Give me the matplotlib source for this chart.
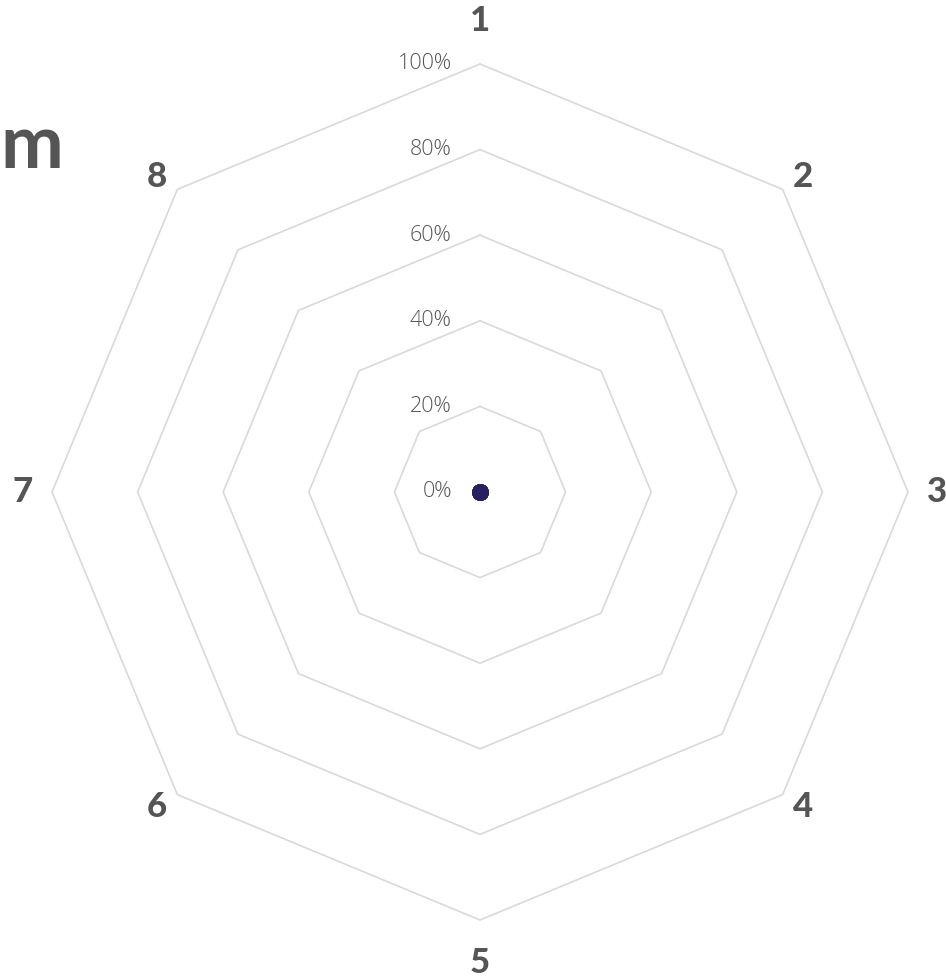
import numpy as np
import matplotlib
matplotlib.use("Agg")
import matplotlib.pyplot as plt

categories = ["1", "2", "3", "4", "5", "6", "7", "8"]
values = [0, 0, 0, 0, 0, 0, 0, 0]
ring_levels = [0.2, 0.4, 0.6, 0.8, 1.0]
tick_labels = ["0%", "20%", "40%", "60%", "80%", "100%"]
title_text = "m"

W, H = 946, 977
fig = plt.figure(figsize=(W / 100, H / 100), dpi=100)
ax = fig.add_axes([0, 0, 1, 1])
cx, cy, R = 480, 492, 428
ax.set_xlim(-cx / R, (W - cx) / R)
ax.set_ylim((cy - H) / R, cy / R)
ax.axis("off")

n = len(categories)
angles = np.arange(n) * 2 * np.pi / n

# rings
for lv in ring_levels:
    a = np.append(angles, angles[0])
    ax.plot(lv * np.sin(a), lv * np.cos(a), color="#d9d9d9", lw=1.2, zorder=1)

# tick labels
for i, t in enumerate(tick_labels):
    r = i * 0.2
    ax.text(-0.066, r, t, ha="right", va="center", fontsize=15.5,
            family="Open Sans", fontweight="light", color="#555555")

# category labels
for ang, c in zip(angles, categories):
    s, co = np.sin(ang), np.cos(ang)
    x = 1.068 * s
    y = 1.04 * co
    if abs(s) < 1e-6:
        y = 1.10 * np.sign(co)
    ax.text(x, y, c, ha="center", va="center", fontsize=25,
            family="Lato", fontweight=900, color="#555555")

# data
v = np.array(values, dtype=float)
ax.plot(v * np.sin(angles), v * np.cos(angles), "o", color="#262262",
        markersize=11, zorder=3)

fig.text(0.0, 1 - 146 / H, title_text, ha="left", va="center", fontsize=54,
         family="Lato", fontweight="bold", color="#555555")

fig.savefig("out.png", dpi=100)
